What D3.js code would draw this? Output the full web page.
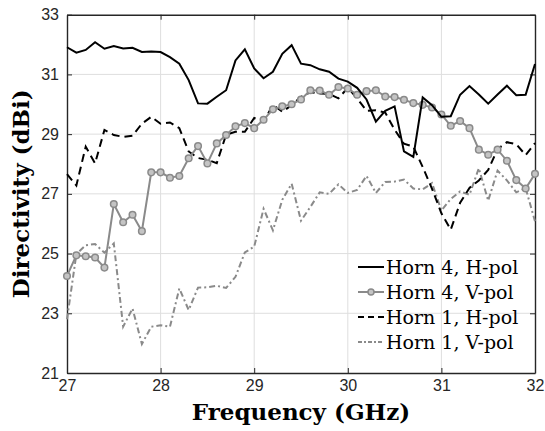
<!DOCTYPE html>
<html>
<head>
<meta charset="utf-8">
<script src="https://cdn.jsdelivr.net/npm/d3@7"></script>
<style>
  html, body { margin: 0; padding: 0; background: #fff; }
  svg { display: block; }
</style>
</head>
<body>
<svg id="chart" width="545" height="431"></svg>
<script>
// Frequency samples (GHz)
const freq = [27.0,27.1,27.2,27.3,27.4,27.5,27.6,27.7,27.8,27.9,
              28.0,28.1,28.2,28.3,28.4,28.5,28.6,28.7,28.8,28.9,
              29.0,29.1,29.2,29.3,29.4,29.5,29.6,29.7,29.8,29.9,
              30.0,30.1,30.2,30.3,30.4,30.5,30.6,30.7,30.8,30.9,
              31.0,31.1,31.2,31.3,31.4,31.5,31.6,31.7,31.8,31.9,32.0];

// Directivity (dBi) per horn / polarisation
const horn4H = [31.91,31.73,31.82,32.08,31.86,31.95,31.87,31.89,31.75,31.77,
                31.75,31.58,31.36,30.81,30.03,30.02,30.25,30.47,31.47,31.84,
                31.20,30.87,31.09,31.69,31.98,31.36,31.31,31.17,31.09,30.86,
                30.76,30.55,30.16,29.42,29.78,29.93,28.42,28.24,30.23,29.97,
                29.58,29.60,30.32,30.61,30.33,30.02,30.33,30.62,30.30,30.32,31.35];

const horn4V = [24.25,24.94,24.91,24.87,24.53,26.66,26.05,26.30,25.75,27.72,
                27.72,27.54,27.60,28.19,28.60,28.02,28.69,28.97,29.26,29.37,
                29.20,29.48,29.83,29.93,30.00,30.16,30.47,30.46,30.32,30.58,
                30.53,30.32,30.44,30.47,30.26,30.24,30.15,30.04,29.98,29.89,
                29.66,29.28,29.44,29.20,28.48,28.31,28.48,28.11,27.46,27.18,27.67];

const horn1H = [27.66,27.28,28.58,28.02,29.14,28.97,28.91,28.95,29.35,29.58,
                29.35,29.39,29.20,28.42,28.20,28.14,28.03,28.98,29.08,29.08,
                29.54,29.42,29.98,29.75,29.97,30.25,30.40,30.36,30.35,30.20,
                30.55,30.20,29.78,29.80,29.72,29.15,28.68,28.58,27.90,27.17,
                26.35,25.80,26.70,27.20,27.45,27.80,28.50,28.73,28.66,28.30,28.70];

const horn1V = [22.80,24.98,25.28,25.32,25.03,25.34,22.55,23.16,21.97,22.55,
                22.60,22.55,23.83,23.11,23.86,23.87,23.92,23.85,24.22,25.04,
                25.23,26.50,25.78,26.80,27.34,26.10,26.56,27.05,27.00,27.32,
                27.03,27.13,27.60,27.03,27.40,27.41,27.48,27.18,27.15,27.36,
                26.44,26.83,27.08,26.97,27.86,26.77,27.78,27.45,27.05,27.19,26.08];

const xTicks = [27, 28, 29, 30, 31, 32];
const yTicks = [21, 23, 25, 27, 29, 31, 33];

const seriesNames = ["Horn 4, H-pol", "Horn 4, V-pol", "Horn 1, H-pol", "Horn 1, V-pol"];

const axisColor = "#262626";
const grey = "#8a8a8a";

const svg = d3.select("#chart");
const margin = { left: 67, right: 10, top: 14.7, bottom: 58 };
const W = 545, H = 431;

const x = d3.scaleLinear().domain([27, 32]).range([margin.left, W - margin.right]);
const y = d3.scaleLinear().domain([21, 33]).range([H - margin.bottom, margin.top]);

const x0 = x.range()[0], x1 = x.range()[1];
const y0 = y.range()[0], y1 = y.range()[1];

// Grid
const grid = svg.append("g");
grid.selectAll("line.gx").data(xTicks.slice(1, -1)).join("line")
  .attr("x1", d => x(d)).attr("x2", d => x(d)).attr("y1", y0).attr("y2", y1)
  .attr("stroke", "#dedede").attr("stroke-width", 1);
grid.selectAll("line.gy").data(yTicks.slice(1, -1)).join("line")
  .attr("y1", d => y(d)).attr("y2", d => y(d)).attr("x1", x0).attr("x2", x1)
  .attr("stroke", "#dedede").attr("stroke-width", 1);

// Axes (ticks inward on all four sides)
const tickLen = 5;
const fmt = d3.format("d");
const axB = svg.append("g").attr("transform", `translate(0,${y0})`)
  .call(d3.axisBottom(x).tickValues(xTicks).tickFormat(fmt).tickSizeInner(-tickLen).tickSizeOuter(0).tickPadding(9));
const axT = svg.append("g").attr("transform", `translate(0,${y1})`)
  .call(d3.axisTop(x).tickValues(xTicks).tickSizeInner(-tickLen).tickSizeOuter(0).tickFormat(""));
const axL = svg.append("g").attr("transform", `translate(${x0},0)`)
  .call(d3.axisLeft(y).tickValues(yTicks).tickFormat(fmt).tickSizeInner(-tickLen).tickSizeOuter(0).tickPadding(9));
const axR = svg.append("g").attr("transform", `translate(${x1},0)`)
  .call(d3.axisRight(y).tickValues(yTicks).tickSizeInner(-tickLen).tickSizeOuter(0).tickFormat(""));

[axB, axT, axL, axR].forEach(a => {
  a.select(".domain").attr("stroke", axisColor).attr("stroke-width", 1.4);
  a.selectAll(".tick line").attr("stroke", axisColor).attr("stroke-width", 1);
  a.selectAll(".tick text")
    .attr("fill", axisColor)
    .style("font-family", "'Liberation Sans', Arial, sans-serif")
    .style("font-size", "16px");
});
axB.selectAll(".tick text").attr("dy", "0.55em");
axL.selectAll(".tick text").attr("dx", "1px");

// Series
const line = d3.line().x((d, i) => x(freq[i])).y(d => y(d));
const plot = svg.append("g");

plot.append("path").datum(horn1V).attr("d", line)
  .attr("fill", "none").attr("stroke", grey).attr("stroke-width", 2)
  .attr("stroke-dasharray", "6,3,2,3");

plot.append("path").datum(horn1H).attr("d", line)
  .attr("fill", "none").attr("stroke", "#000").attr("stroke-width", 2)
  .attr("stroke-dasharray", "8,5");

plot.append("path").datum(horn4V).attr("d", line)
  .attr("fill", "none").attr("stroke", grey).attr("stroke-width", 2);
plot.selectAll("circle.m").data(horn4V).join("circle")
  .attr("cx", (d, i) => x(freq[i])).attr("cy", d => y(d)).attr("r", 3.3)
  .attr("fill", "#c4c4c4").attr("stroke", grey).attr("stroke-width", 1.5);

plot.append("path").datum(horn4H).attr("d", line)
  .attr("fill", "none").attr("stroke", "#000").attr("stroke-width", 2);

// Legend
const legend = svg.append("g");
const styles = [
  { stroke: "#000", dash: null, marker: false },
  { stroke: grey, dash: null, marker: true },
  { stroke: "#000", dash: "6,4", marker: false },
  { stroke: grey, dash: "4,2,2,2", marker: false }
];
const lx0 = 358, lx1 = 384, ly = 267, lstep = 25;
seriesNames.forEach((name, i) => {
  const yy = ly + i * lstep;
  const s = styles[i];
  legend.append("line").attr("x1", lx0).attr("x2", lx1).attr("y1", yy).attr("y2", yy)
    .attr("stroke", s.stroke).attr("stroke-width", 2)
    .attr("stroke-dasharray", s.dash);
  if (s.marker) {
    legend.append("circle").attr("cx", (lx0 + lx1) / 2).attr("cy", yy).attr("r", 3)
      .attr("fill", "#c4c4c4").attr("stroke", grey).attr("stroke-width", 1.5);
  }
  legend.append("text").attr("x", 386).attr("y", yy + 7)
    .text(name)
    .style("font-family", "'DejaVu Serif', serif")
    .style("font-size", "19px")
    .attr("fill", "#000");
});

// Axis titles
svg.append("text")
  .attr("x", (x0 + x1) / 2).attr("y", 420)
  .attr("text-anchor", "middle")
  .style("font-family", "'DejaVu Serif', serif")
  .style("font-weight", "bold")
  .style("font-size", "23px")
  .text("Frequency (GHz)");

svg.append("text")
  .attr("transform", `translate(29,${(y0 + y1) / 2}) rotate(-90)`)
  .attr("text-anchor", "middle")
  .style("font-family", "'DejaVu Serif', serif")
  .style("font-weight", "bold")
  .style("font-size", "23px")
  .text("Directivity (dBi)");
</script>
</body>
</html>
